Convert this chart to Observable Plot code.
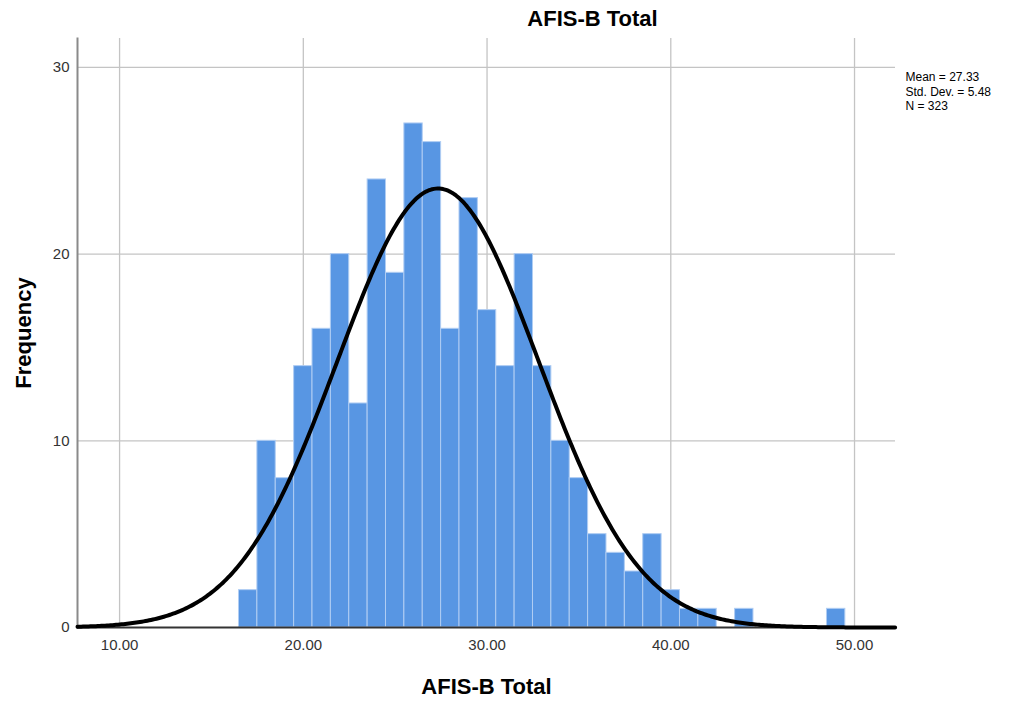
<!DOCTYPE html>
<html>
<head>
<meta charset="utf-8">
<script src="https://cdn.jsdelivr.net/npm/d3@7"></script>
<script src="https://cdn.jsdelivr.net/npm/@observablehq/plot@0.6"></script>
<style>
  html, body { margin: 0; padding: 0; background: #fff; }
  #chart svg { display: block; }
</style>
</head>
<body>
<div id="chart"></div>
<script>
// Bin centres (bin width 1) and their frequencies
const binCenters = [17,18,19,20,21,22,23,24,25,26,27,28,29,30,31,32,33,34,35,36,37,38,39,40,41,42,44,49];
const frequencies = [2,10,8,14,16,20,12,24,19,27,26,16,23,17,14,20,14,10,8,5,4,3,5,2,1,1,1,1];
const xTicks = [10, 20, 30, 40, 50];
const yTicks = [0, 10, 20, 30];
const stats = {mean: 27.33, sd: 5.48, n: 323};
const titleText = "AFIS-B Total";
const xLabel = "AFIS-B Total";
const yLabel = "Frequency";
const statLines = ["Mean = 27.33", "Std. Dev. = 5.48", "N = 323"];

const xDomain = [7.71, 52.23];
const yDomain = [0, 31.55];

const bins = binCenters.map((c, i) => ({x1: c - 0.5, x2: c + 0.5, count: frequencies[i]}));

// Fitted normal curve from the stated mean, SD and N (bin width 1)
const curve = d3.range(xDomain[0], xDomain[1] + 0.05, 0.1).map(x => ({
  x,
  y: stats.n * Math.exp(-0.5 * ((x - stats.mean) / stats.sd) ** 2) / (stats.sd * Math.sqrt(2 * Math.PI))
}));

const font = "'Liberation Sans', Arial, sans-serif";

const chart = Plot.plot({
  width: 1019,
  height: 701,
  marginLeft: 77,
  marginRight: 124,
  marginTop: 38,
  marginBottom: 74,
  style: {fontFamily: font, background: "#fff", overflow: "visible"},
  x: {domain: xDomain},
  y: {domain: yDomain},
  marks: [
    Plot.gridX(xTicks, {stroke: "#c4c4c4", strokeOpacity: 1, strokeWidth: 1.3}),
    Plot.gridY(yTicks.filter(d => d > 0), {stroke: "#c4c4c4", strokeOpacity: 1, strokeWidth: 1.3}),
    Plot.rectY(bins, {x1: "x1", x2: "x2", y: "count", fill: "#5896e3", stroke: "#b0cdf3", strokeWidth: 1}),
    Plot.frame({anchor: "left", stroke: "#8a8a8a", strokeWidth: 2}),
    Plot.ruleY([0], {stroke: "#333", strokeWidth: 2}),
    Plot.line(curve, {x: "x", y: "y", stroke: "#000", strokeWidth: 4, curve: "linear"}),
    Plot.axisX(xTicks, {tickSize: 0, tickPadding: 12, tickFormat: d => d.toFixed(2), fontSize: 15, fill: "#333", label: null}),
    Plot.axisY(yTicks, {tickSize: 0, tickPadding: 8, fontSize: 15, fill: "#333", label: null}),
    Plot.text([titleText], {frameAnchor: "top-left", dx: 515, dy: -20, lineAnchor: "middle", textAnchor: "middle", fontSize: 22, fontWeight: "bold", fill: "#000"}),
    Plot.text([xLabel], {frameAnchor: "bottom", dy: 59, lineAnchor: "middle", textAnchor: "middle", fontSize: 22, fontWeight: "bold", fill: "#000"}),
    Plot.text([yLabel], {frameAnchor: "left", dx: -54, rotate: -90, lineAnchor: "middle", textAnchor: "middle", fontSize: 22, fontWeight: "bold", fill: "#000"}),
    Plot.text([statLines.join("\n")], {frameAnchor: "top-right", dx: 10, dy: 32, textAnchor: "start", lineAnchor: "top", lineHeight: 1.22, fontSize: 12, fill: "#000"})
  ]
});
document.getElementById("chart").appendChild(chart);
</script>
</body>
</html>
